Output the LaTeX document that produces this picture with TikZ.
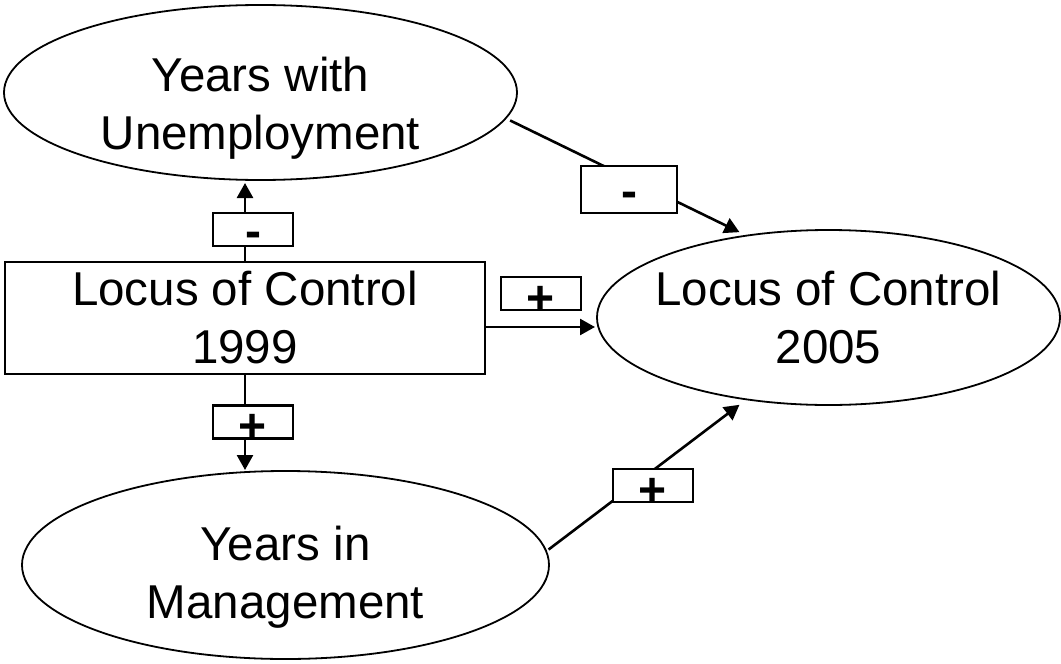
\documentclass[tikz,border=0pt]{standalone}
\usepackage{fontspec}
\setmainfont{Liberation Sans}
\usetikzlibrary{arrows.meta,shapes.geometric}

\begin{document}
\begin{tikzpicture}[x=1pt,y=-1pt,
  every node/.style={inner sep=0pt, outer sep=0pt},
  txt/.style={font=\fontsize{47.5}{58}\selectfont, align=center},
  oval/.style={draw, ellipse, line width=1.8pt},
  block/.style={draw, rectangle, line width=2.8pt},
  signbox/.style={draw, fill=white, line width=2.5pt, minimum width=80pt, minimum height=33pt},
  signtxt/.style={font=\fontsize{48}{48}\selectfont\bfseries},
  minus/.style={signbox, label={[signtxt, yshift=-10pt]center:-}},
  plus/.style={signbox, label={[signtxt, yshift=-6.5pt]center:+}},
  arr/.style={line width=2.6pt, -{Triangle[length=15pt,width=16pt]}}]

\useasboundingbox (0,0) rectangle (1061,664);

% constructs
\node[oval, minimum width=513pt, minimum height=175pt] (unemp) at (260.5,92.5) {};
\node[txt] (unempT) at ([yshift=-16pt]unemp.center) {Years with\\Unemployment};

\node[block, txt, minimum width=480pt, minimum height=112pt] (lc99) at (245,318) {Locus of Control\\1999};

\node[oval, minimum width=463pt, minimum height=175pt] (lc05) at (828.5,317.5) {};
\node[txt] (lc05T) at (lc05.center) {Locus of Control\\2005};

\node[oval, minimum width=527pt, minimum height=188pt] (mgmt) at (285.5,565) {};
\node[txt] (mgmtT) at ([yshift=-12pt]mgmt.center) {Years in\\Management};

% paths
\draw[arr, shorten >=3pt] (lc99.north) -- (lc99.north |- unemp.south);
\draw[arr, shorten >=1pt] (lc99.south) -- (lc99.south |- mgmt.north);
\coordinate (hStart) at ([yshift=-9pt]lc99.east);
\draw[arr, shorten >=2pt] (hStart) -- (hStart -| lc05.west);
\draw[arr, shorten <=5pt, shorten >=8pt] (unemp.-6) -- (lc05.135);
\draw[arr, shorten <=3pt, shorten >=9pt] (mgmt.3.5) -- (lc05.-135);

% signs of the effects
\node[minus] (sUp) at (253,229.5) {};
\node[minus, minimum width=96pt, minimum height=47pt] (sUnemp) at (629,189.5) {};
\node[plus] (sDirect) at (541,293.5) {};
\node[plus] (sDown) at (253,422) {};
\node[plus] (sMgmt) at (653,485.5) {};
\end{tikzpicture}
\end{document}
